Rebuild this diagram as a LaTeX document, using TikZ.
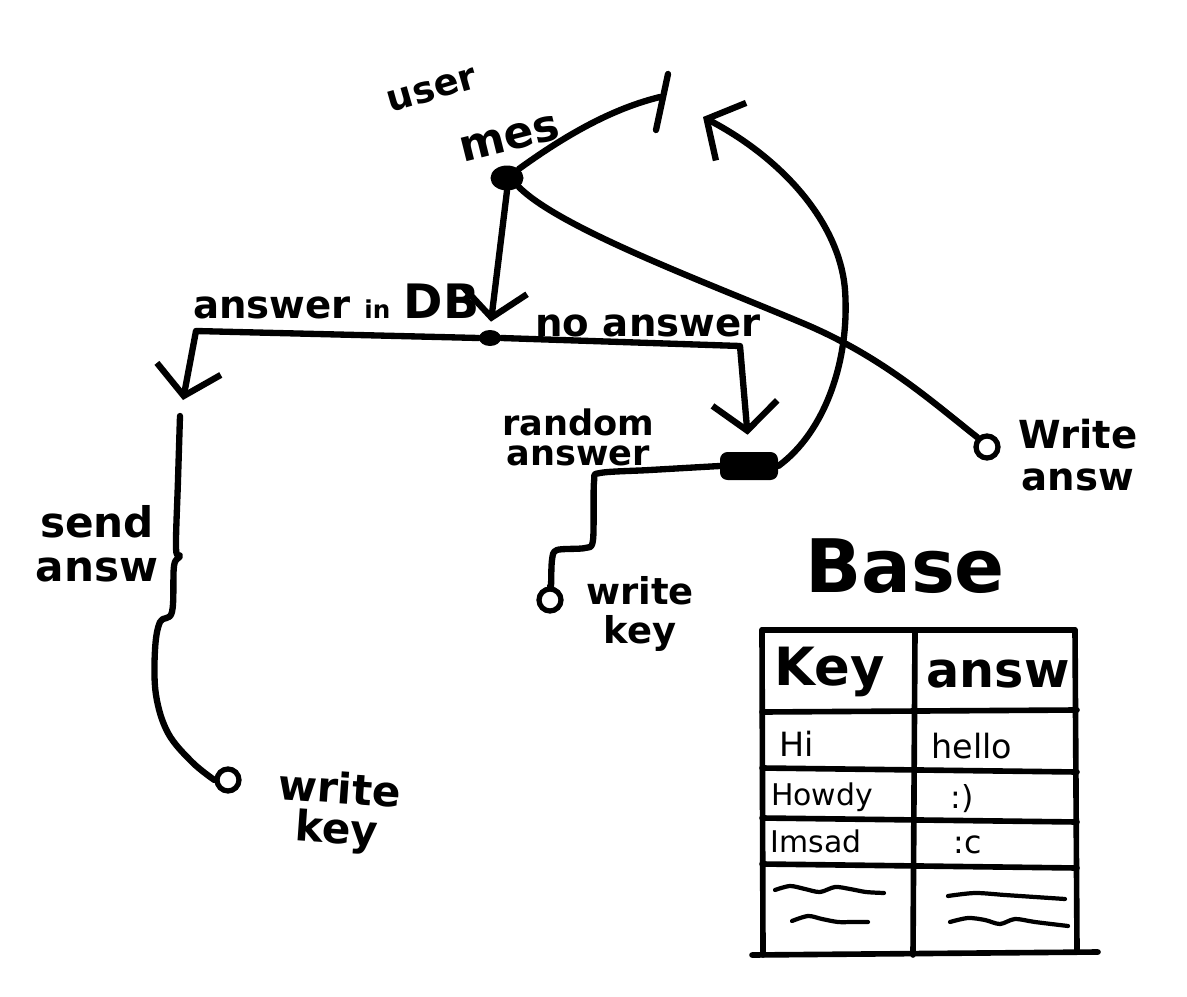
\documentclass[tikz,border=0pt]{standalone}
\usepackage{fontspec}
\setmainfont{DejaVu Sans}
\usetikzlibrary{arrows.meta,shapes.geometric}
\newcommand{\fsz}[1]{\fontsize{#1}{#1}\selectfont}
\begin{document}
\begin{tikzpicture}[x=0.02cm,y=-0.02cm,
  wire/.style={line width=3.6pt,line cap=round,line join=round},
  barb/.style={-{Straight Barb[length=5.5mm,width=13mm]}},
  blob/.style={ellipse,fill=black,inner sep=0pt,minimum width=6.6mm,minimum height=5mm},
  dotnode/.style={ellipse,fill=black,inner sep=0pt,minimum width=4.4mm,minimum height=3.2mm},
  hbox/.style={rectangle,fill=black,rounded corners=1.5mm,inner sep=0pt,minimum width=11.6mm,minimum height=5.6mm},
  term/.style={circle,draw,line width=3pt,inner sep=0pt,minimum size=4.4mm},
  lbl/.style={font=\bfseries\fsz{22},inner sep=0pt,align=center},
  grid/.style={line width=3.2pt,line cap=round},
  wave/.style={line width=2.4pt,line cap=round},
]
\useasboundingbox (0,0) rectangle (1187,997);

% ---- nodes ----
\node[blob] (um) at (507,178) {};
\node[dotnode] (j) at (490,338) {};
\node[hbox] (rb) at (749,466) {};
\node[term] (wa) at (987,447) {};
\node[term] (wk1) at (228,780) {};
\node[term] (wk2) at (550,600) {};

\coordinate (tick) at (660,97);
\coordinate (tickT) at (668,74);
\coordinate (tickB) at (656,130);
\coordinate (lc) at (196,331);
\coordinate (sa) at (183,400);
\coordinate (sb) at (180,416);
\coordinate (rc) at (740,346);
\coordinate (back) at (703,117);

% ---- connectors ----
\draw[wire] (um.north east) .. controls (570,132) and (615,108) .. (tick);
\draw[wire] (tickT) -- (tickB);
\draw[wire,barb,shorten >=1.6mm] (um.south) -- (j.north);
\draw[wire] (um.south east) .. controls (560,228) and (700,280) .. (800,322)
  .. controls (880,355) and (930,400) .. (wa.north west);
\draw[wire,barb] (j.west) -- (lc) -- (sa);
\draw[wire] plot[smooth,tension=0.6] coordinates {(sb) (178,480) (176,548) (180,556) (174,566) (172,612) (160,622) (155,650) (156,695) (168,733) (192,762) (wk1.west)};
\draw[wire,barb,shorten >=3.4mm] (j.east) -- (rc) -- (rb.north);
\draw[wire] plot[smooth,tension=0.5] coordinates {(rb.west) (650,470) (600,473) (594,482) (593,540) (585,548) (557,550) (552,560) (551,586) (wk2.north)};
\draw[wire,barb] (rb.east) .. controls (825,432) and (850,360) .. (845,290)
  .. controls (840,225) and (785,160) .. (back);

% ---- labels ----
\node[lbl,font=\bfseries\fsz{21},rotate=16] at (432,90) {user};
\node[lbl,font=\bfseries\fsz{25},rotate=14] at (510,139) {mes};
\node[lbl,anchor=base west] at (193,318) {answer {\fsz{14}in} {\fsz{27}DB}};
\node[lbl,anchor=base] at (648,336) {no answer};
\node[lbl,font=\bfseries\fsz{20}\linespread{0.85}\selectfont] at (578,437) {random\\answer};
\node[lbl,font=\bfseries\fsz{24}\linespread{1.05}\selectfont] at (97,544) {send\\answ};
\node[lbl,font=\bfseries\fsz{22}\linespread{1.1}\selectfont,anchor=west] at (1018,455) {Write\\answ};
\node[lbl,font=\bfseries\fsz{24}\linespread{0.95}\selectfont,rotate=-4] at (338,812) {write\\key};
\node[lbl,font=\bfseries\fsz{21}\linespread{1.05}\selectfont] at (640,614) {write\\key};
\node[lbl,font=\bfseries\fsz{42}] at (905,566) {Base};

% ---- table ----
\draw[grid] (762,630) -- (1075,630);
\draw[grid] (762,630) -- (763,955);
\draw[grid] (1075,630) -- (1077,950);
\draw[grid] (915,632) -- (913,955);
\draw[grid] (752,955) -- (1098,952);
\draw[grid] (762,712) -- (1077,710);
\draw[grid] (762,768) -- (1077,772);
\draw[grid] (762,818) -- (1077,822);
\draw[grid] (762,864) -- (1077,868);
\node[lbl,font=\bfseries\fsz{30}] at (830,672) {Key};
\node[lbl,font=\bfseries\fsz{28}] at (998,674) {answ};
\node[lbl,font=\fsz{19}] at (797,744) {Hi};
\node[lbl,font=\fsz{19}] at (972,746) {hello};
\node[lbl,font=\fsz{17}] at (822,797) {Howdy};
\node[lbl,font=\fsz{18}] at (962,799) {:)};
\node[lbl,font=\fsz{17}] at (816,841) {Imsad};
\node[lbl,font=\fsz{18}] at (968,845) {:c};
\draw[wave] plot[smooth] coordinates {(775,890) (790,886) (805,889) (820,892) (835,887) (850,889) (866,892) (884,893)};
\draw[wave] plot[smooth] coordinates {(792,921) (808,916) (822,919) (838,922) (852,922) (868,922)};
\draw[wave] plot[smooth] coordinates {(948,896) (975,893) (1005,895) (1035,897) (1065,899)};
\draw[wave] plot[smooth] coordinates {(950,922) (968,918) (985,920) (1000,924) (1015,919) (1035,922) (1068,926)};
\end{tikzpicture}
\end{document}
